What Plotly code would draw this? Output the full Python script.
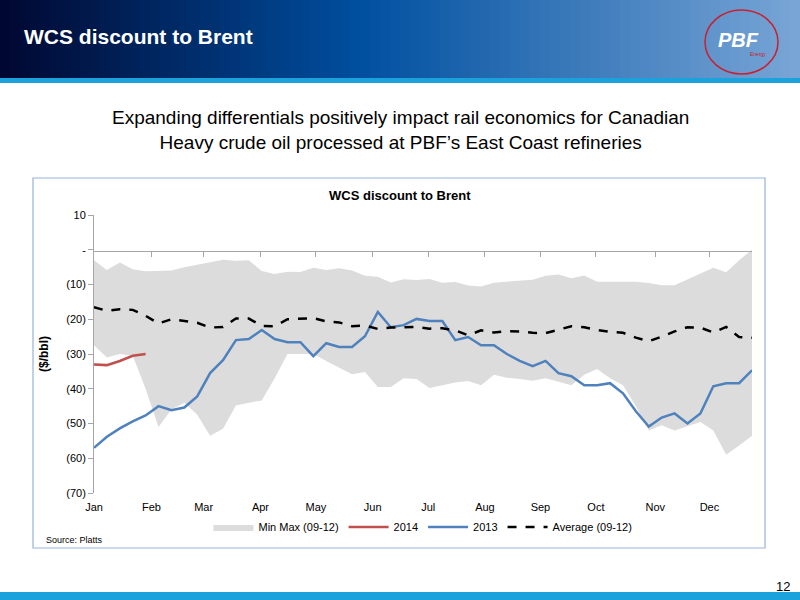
import plotly.graph_objects as go

weeks = list(range(52))
month_labels = ["Jan","Feb","Mar","Apr","May","Jun","Jul","Aug","Sep","Oct","Nov","Dec"]
month_pos = [0, 4.45, 8.5, 12.9, 17.2, 21.6, 25.9, 30.3, 34.6, 38.9, 43.5, 47.7]

y2013 = [-57,-53.8,-51.4,-49.4,-47.7,-45,-46.2,-45.4,-42.2,-35.5,-31.8,-26,-25.7,-23.1,-25.7,-26.6,-26.6,-30.6,-26.9,-28,
         -28,-24.9,-17.9,-22.3,-21.7,-19.9,-20.5,-20.5,-26,-25.1,-27.5,-27.5,-30,-32,-33.5,-32,-35.5,-36.4,-39,-39,
         -38.4,-41.3,-46.5,-50.9,-48.3,-47.1,-50,-47.1,-39.3,-38.4,-38.4,-34.7]
y2014 = [-33,-33.2,-32,-30.5,-30]
avg = [-16.5,-17.6,-17.1,-17.3,-19,-21.2,-20,-20.4,-21,-22.4,-22.2,-19.8,-19.8,-21.9,-22,-20,-19.8,-19.7,-20.6,-20.9,
       -22,-21.8,-22.8,-22.4,-22.3,-22.2,-22.7,-22.6,-23.2,-24.6,-23.2,-23.8,-23.4,-23.5,-23.9,-24,-23,-22,-22.3,-23.1,
       -23.6,-23.9,-25.3,-26.3,-25,-23.5,-22.3,-22.4,-23.8,-22.2,-25.1,-25.3]
ymax = [-3,-5.8,-3.7,-5.6,-6.2,-6,-6,-5,-4.3,-3.8,-2.9,-3.2,-3,-6.1,-7,-6.3,-6.4,-5.2,-5.8,-5.3,
        -6,-7.5,-7.8,-9.4,-8.5,-8.7,-8.4,-9.5,-9.3,-10.3,-10.6,-9.5,-9.2,-9,-8.6,-7.5,-7.1,-8.2,-7.4,-9.2,
        -9.2,-9.4,-9.2,-9.6,-10.2,-10.2,-8.6,-6.8,-5.2,-6.5,-3,0]
ymin = [-27.5,-31,-30,-30.5,-40,-51,-46,-44,-47.5,-53.5,-51.5,-44.8,-44,-43.4,-37,-30,-30,-30,-32,-34,
        -35.8,-35.2,-39.5,-39.5,-37,-37.2,-39.8,-39,-38.2,-37.8,-39,-36,-36.8,-37.2,-37.7,-37,-38,-39,-36,-34.3,
        -37,-39,-45,-52,-50.5,-52,-50.8,-49.6,-52,-59,-56.3,-53.5]
ytick_vals = [10,0,-10,-20,-30,-40,-50,-60,-70]
ytick_text = ["10","-","(10)","(20)","(30)","(40)","(50)","(60)","(70)"]

F = "Liberation Sans, Arial, sans-serif"
fig = go.Figure()
fig.add_trace(go.Scatter(x=weeks, y=ymin, mode="lines", line=dict(width=0), showlegend=False, hoverinfo="skip"))
fig.add_trace(go.Scatter(x=weeks, y=ymax, mode="lines", line=dict(width=0), fill="tonexty",
                         fillcolor="#DCDCDC", name="Min Max (09-12)"))
fig.add_trace(go.Scatter(x=weeks[:len(y2014)], y=y2014, mode="lines", line=dict(color="#C0504D", width=2.5), name="2014"))
fig.add_trace(go.Scatter(x=weeks, y=y2013, mode="lines", line=dict(color="#4F81BD", width=2.5), name="2013"))
fig.add_trace(go.Scatter(x=weeks, y=avg, mode="lines", line=dict(color="black", width=2.5, dash="dash"), name="Average (09-12)"))
fig.add_trace(go.Scatter(x=[0], y=[0], xaxis="x2", mode="markers", marker=dict(opacity=0), showlegend=False, hoverinfo="skip"))

W, H = 800, 600
L, R, T, B = 94, 752, 215, 493
def px(x): return (x - L) / (R - L)
def py(y): return (B - y) / (B - T)

shapes = []
n = 80
c0 = (0, 8, 50); c1 = (0, 80, 160); c2 = (120, 165, 214)
for i in range(n):
    t = i / (n - 1)
    if t < 0.45:
        u = t / 0.45; c = [int(c0[k] + (c1[k]-c0[k])*u) for k in range(3)]
    else:
        u = (t-0.45)/0.55; c = [int(c1[k] + (c2[k]-c1[k])*u) for k in range(3)]
    shapes.append(dict(type="rect", xref="paper", yref="paper", x0=px(i*W/n), x1=px((i+1)*W/n+1),
                       y0=py(78), y1=py(0), fillcolor=f"rgb({c[0]},{c[1]},{c[2]})", line=dict(width=0), layer="below"))
shapes.append(dict(type="rect", xref="paper", yref="paper", x0=px(0), x1=px(800), y0=py(83), y1=py(78),
                   fillcolor="#1BA1DB", line=dict(width=0)))
shapes.append(dict(type="rect", xref="paper", yref="paper", x0=px(0), x1=px(800), y0=py(600), y1=py(592),
                   fillcolor="#1BA1DB", line=dict(width=0)))
shapes.append(dict(type="circle", xref="paper", yref="paper", x0=px(705), x1=px(778), y0=py(74), y1=py(10),
                   line=dict(color="#C8202F", width=1.5)))
shapes.append(dict(type="rect", xref="paper", yref="paper", x0=px(33), x1=px(765), y0=py(548), y1=py(178),
                   line=dict(color="#95B3D7", width=1.2), layer="below"))
fig.update_layout(shapes=shapes)

ann = [
    dict(text="<b>WCS discount to Brent</b>", x=px(22), y=py(36), xanchor="left", yanchor="middle", font=dict(size=21, color="white")),
    dict(text="<b><i>PBF</i></b>", x=px(738), y=py(40), xanchor="center", yanchor="middle", font=dict(size=20, color="white")),
    dict(text="Energy", x=px(758), y=py(54), xanchor="center", yanchor="middle", font=dict(size=5, color="#C8202F")),
    dict(text="Expanding differentials positively impact rail economics for Canadian<br>Heavy crude oil processed at PBF’s East Coast refineries",
         x=px(400), y=py(130), xanchor="center", yanchor="middle", font=dict(size=19, color="black")),
    dict(text="<b>WCS discount to Brent</b>", x=px(400), y=py(195), xanchor="center", yanchor="middle", font=dict(size=13, color="black")),
    dict(text="<b>($/bbl)</b>", x=px(44), y=py(354), xanchor="center", yanchor="middle", textangle=-90, font=dict(size=12, color="black")),
    dict(text="Source: Platts", x=px(44), y=py(540), xanchor="left", yanchor="middle", font=dict(size=9, color="black")),
    dict(text="12", x=px(792), y=py(586), xanchor="right", yanchor="middle", font=dict(size=13, color="black")),
]
for a in ann:
    a.update(xref="paper", yref="paper", showarrow=False)

fig.update_layout(
    annotations=ann,
    width=W, height=H, margin=dict(l=L, r=W-R, t=T, b=H-B, pad=0),
    paper_bgcolor="white", plot_bgcolor="white",
    font=dict(family=F, size=11, color="black"),
    xaxis=dict(range=[0, 51], tickvals=month_pos, ticktext=month_labels, showgrid=False, zeroline=False,
               showline=False, ticks="", ticklabelstandoff=6),
    xaxis2=dict(range=[0, 51], overlaying="x", anchor="free", position=py(251), side="bottom", showline=True,
                linecolor="#A6A6A6", ticks="outside", ticklen=5, tickcolor="#A6A6A6", tickvals=month_pos[1:],
                showticklabels=False, showgrid=False, zeroline=False),
    yaxis=dict(range=[-70, 10], tickvals=ytick_vals, ticktext=ytick_text, showgrid=False, zeroline=False,
               showline=True, linecolor="#A6A6A6", ticks="outside", ticklen=5, tickcolor="#A6A6A6"),
    legend=dict(orientation="h", x=0.5, xanchor="center", y=py(527), yanchor="middle", font=dict(size=11),
                traceorder="normal", itemwidth=40, bgcolor="rgba(0,0,0,0)"),
)
fig.write_html("out.html", config={"displayModeBar": False},
               post_script="document.body.style.margin='0';document.body.style.padding='0';")
